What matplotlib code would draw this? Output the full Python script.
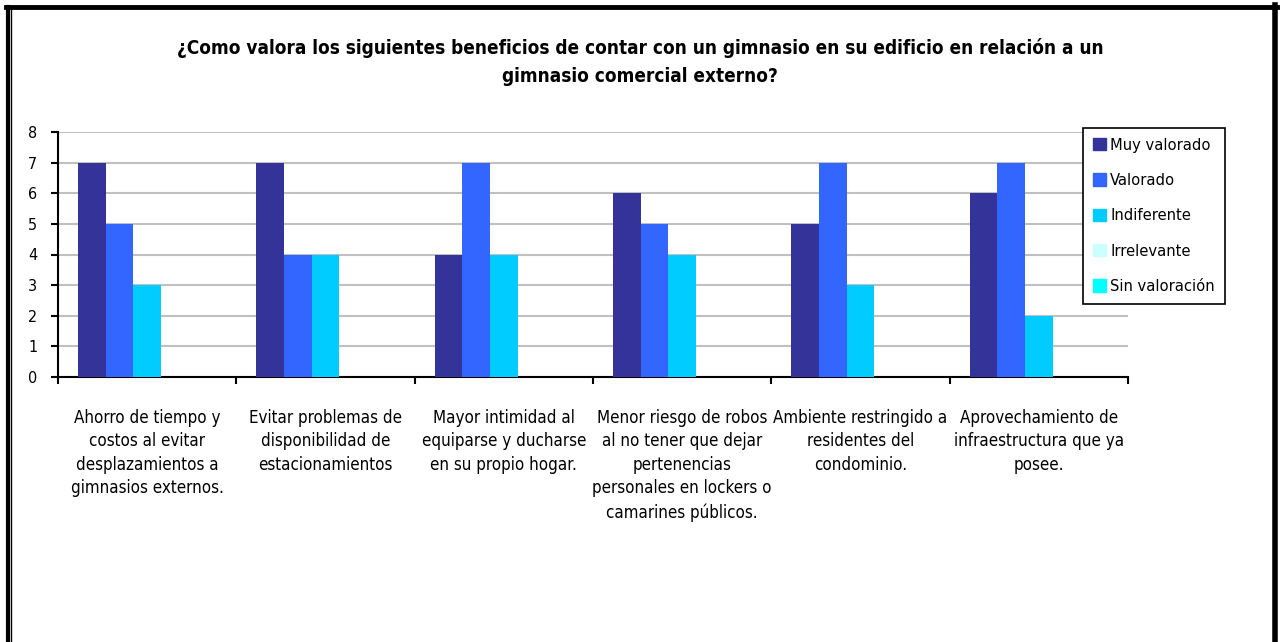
import matplotlib.pyplot as plt
import numpy as np
from matplotlib.patches import Rectangle
from matplotlib.lines import Line2D

categorias = [
    "Ahorro de tiempo y\ncostos al evitar\ndesplazamientos a\ngimnasios externos.",
    "Evitar problemas de\ndisponibilidad de\nestacionamientos",
    "Mayor intimidad al\nequiparse y ducharse\nen su propio hogar.",
    "Menor riesgo de robos\nal no tener que dejar\npertenencias\npersonales en lockers o\ncamarines públicos.",
    "Ambiente restringido a\nresidentes del\ncondominio.",
    "Aprovechamiento de\ninfraestructura que ya\nposee.",
]
series = ["Muy valorado", "Valorado", "Indiferente", "Irrelevante", "Sin valoración"]
muy_valorado = [7, 7, 4, 6, 5, 6]
valorado = [5, 4, 7, 5, 7, 7]
indiferente = [3, 4, 4, 4, 3, 2]
irrelevante = [0, 0, 0, 0, 0, 0]
sin_valoracion = [0, 0, 0, 0, 0, 0]
colores = ["#333399", "#3366FF", "#00CCFF", "#CCFFFF", "#00FFFF"]

W, H = 1280, 642
fig = plt.figure(figsize=(W / 100, H / 100), dpi=100)
fuente = dict(family="DejaVu Sans", stretch="condensed")

ax = fig.add_axes([58 / W, 1 - 377 / H, (1128 - 58) / W, (377 - 132) / H])

valores = [muy_valorado, valorado, indiferente, irrelevante, sin_valoracion]
ancho = 0.155
margen = (1 - 5 * ancho) / 2
x = np.arange(len(categorias))
for j, (vals, col, nombre) in enumerate(zip(valores, colores, series)):
    ax.bar(x + margen + j * ancho, vals, width=ancho, align="edge",
           color=col, label=nombre, zorder=3)

ax.set_xlim(0, len(categorias))
ax.set_ylim(0, 8)
ax.set_yticks(range(9))
ax.yaxis.grid(True, color="#C0C0C0", linewidth=1.5, zorder=0)
ax.set_xticks(range(len(categorias) + 1))
ax.set_xticklabels([])
ax.tick_params(axis="both", length=5, width=1.5, color="black")
ax.tick_params(axis="y", labelsize=11.5, pad=10)
for lab in ax.get_yticklabels():
    lab.set_fontstretch("condensed")
for s in ["top", "right"]:
    ax.spines[s].set_visible(False)
for s in ["left", "bottom"]:
    ax.spines[s].set_linewidth(1.5)

# etiquetas de categoría bajo el eje
for i, cat in enumerate(categorias):
    ax.text(i + 0.5, -1.03, cat, ha="center", va="top", fontsize=12.2,
            linespacing=1.4, **fuente)

fig.text(0.5, 1 - 48 / H, "¿Como valora los siguientes beneficios de contar con un gimnasio en su edificio en relación a un",
         ha="center", va="center", fontsize=13.6, fontweight="bold", **fuente)
fig.text(0.5, 1 - 77 / H, "gimnasio comercial externo?",
         ha="center", va="center", fontsize=13.6, fontweight="bold", **fuente)

# leyenda en su propio recuadro
handles = [Rectangle((0, 0), 1, 1, color=c) for c in colores]
leg = fig.legend(handles, series, loc="upper left",
                 bbox_to_anchor=(1083 / W, 1 - 128 / H), frameon=True,
                 fancybox=False, edgecolor="black", framealpha=1,
                 handlelength=0.8, handleheight=0.8, handletextpad=0.25,
                 labelspacing=1.24, borderpad=0.6, borderaxespad=0,
                 prop=dict(family="DejaVu Sans", size=11.8, stretch="condensed"))
leg.get_frame().set_linewidth(1.2)

# marco exterior
fig.add_artist(Line2D([7.5 / W, 7.5 / W], [0, 1 - 7 / H], color="black", linewidth=3, transform=fig.transFigure))
fig.add_artist(Line2D([10.5 / W, 10.5 / W], [0, 1 - 7 / H], color="black", linewidth=1, transform=fig.transFigure))
fig.add_artist(Line2D([6 / W, 1277 / W], [1 - 7 / H, 1 - 7 / H], color="black", linewidth=3.5, transform=fig.transFigure))
fig.add_artist(Line2D([1274.5 / W, 1274.5 / W], [0, 1 - 5 / H], color="black", linewidth=4, transform=fig.transFigure))

fig.savefig("out.png", dpi=100)
